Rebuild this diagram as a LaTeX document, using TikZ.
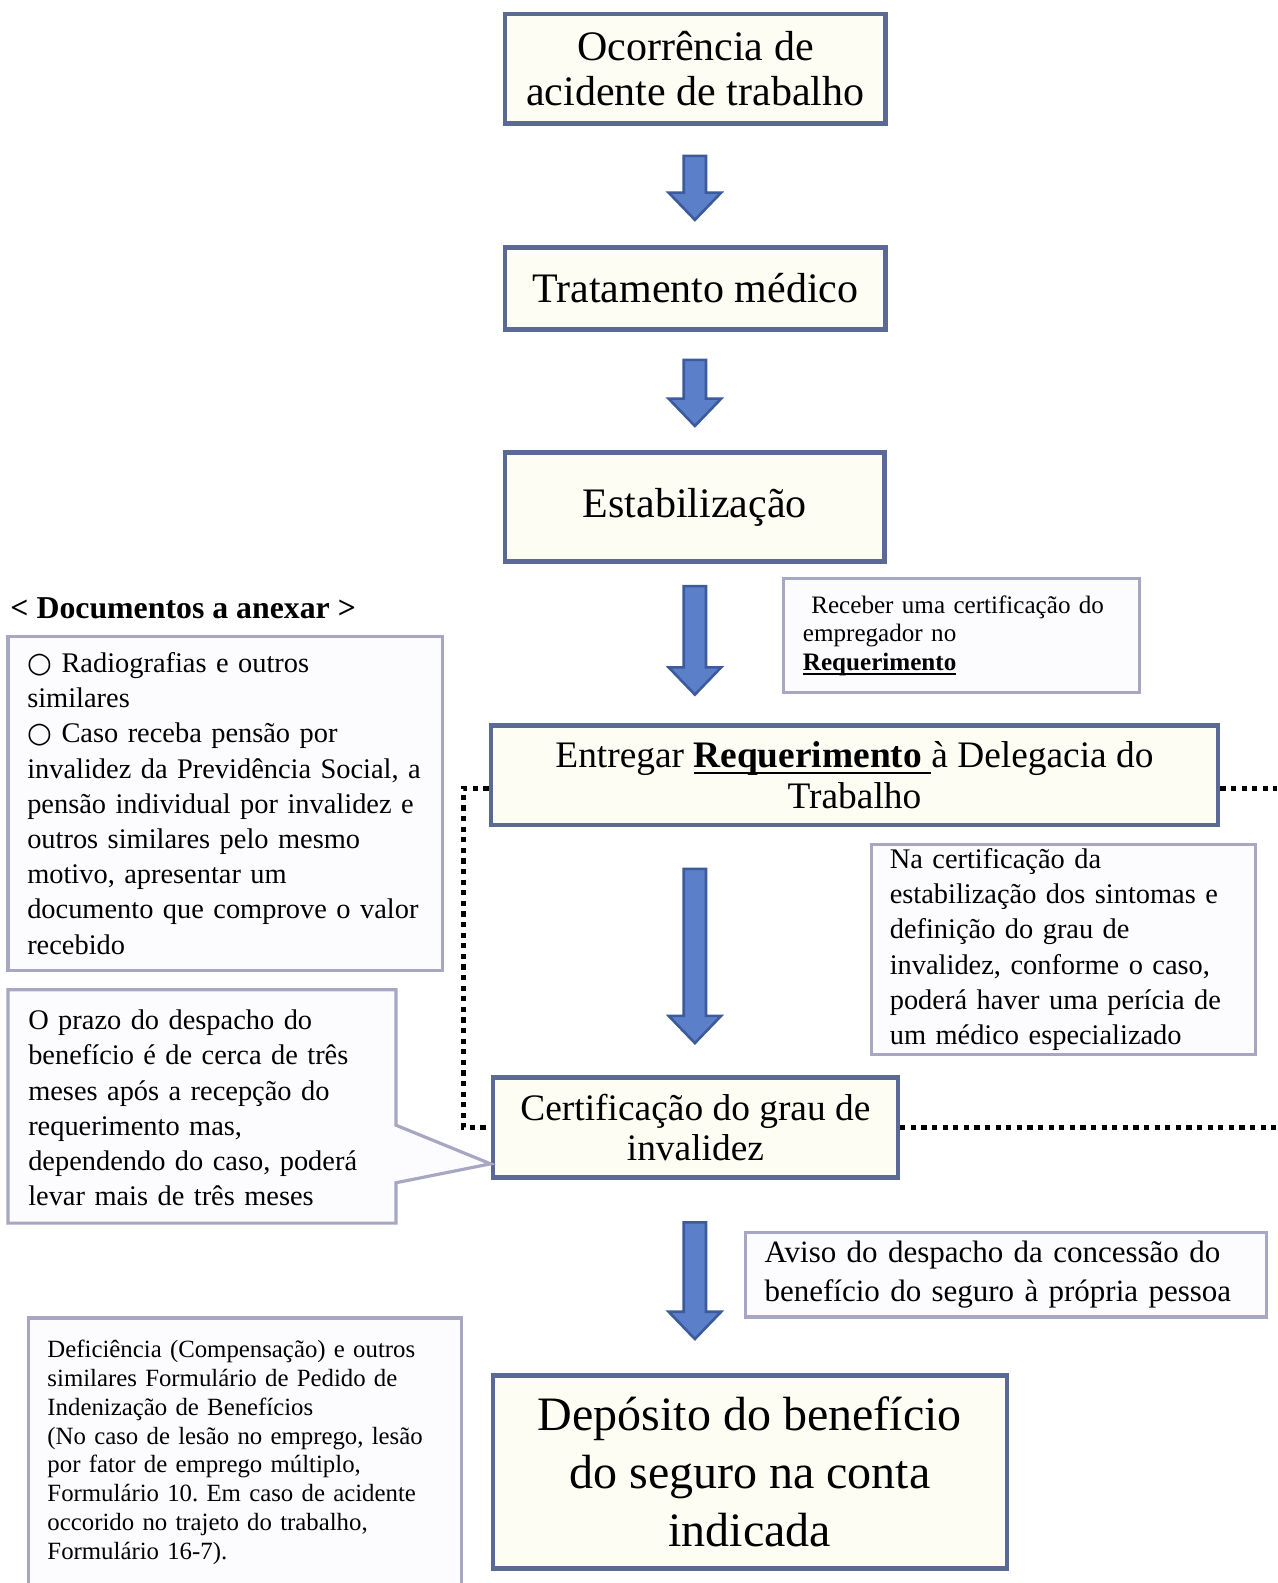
\documentclass[tikz,border=0pt]{standalone}
\usepackage{fontspec}
\setmainfont{Liberation Serif}
\newfontfamily\symfont{DejaVu Sans}
\usetikzlibrary{calc}

\definecolor{mainline}{RGB}{91,106,148}
\definecolor{mainfill}{RGB}{253,253,243}
\definecolor{noteline}{RGB}{167,167,195}
\definecolor{notefill}{RGB}{252,252,255}
\definecolor{arrowfill}{RGB}{91,127,200}
\definecolor{arrowline}{RGB}{60,90,158}

\newdimen\px \px=0.505pt
\newcommand\fs[2]{\fontsize{#1pt}{#2pt}\selectfont\frenchspacing}
\newcommand\reqline[2]{\leavevmode\setbox0\hbox{#2}\rlap{\rule[-#1]{\wd0}{0.9pt}}\box0}
\newcommand\bullito{{\symfont ○}}

\tikzset{
  mainbox/.style={
    rectangle,
    draw=mainline,
    fill=mainfill,
    line width=2.3pt,
    inner sep=0pt,
    align=center
  },
  notebox/.style={
    rectangle,
    draw=noteline,
    fill=notefill,
    line width=1.6pt,
    inner ysep=0pt,
    align=left
  },
  noteline/.style={draw=noteline, line width=1.6pt},
  dotline/.style={line width=2.6pt, dash pattern=on 2.6pt off 2.7pt},
  blockarrow/.style={fill=arrowfill, draw=arrowline, line width=1.3pt},
}

% block arrow from node #1 down to node #2, on the column (col)
\newcommand\flowarrow[4]{%
  \draw[blockarrow] ($(col |- #1.south)+(-11,#3)$) -- ($(col |- #1.south)+(11,#3)$)
    -- ($(col |- #2.north)+(11,-#4-27)$) -- ($(col |- #2.north)+(26,-#4-27)$)
    -- ($(col |- #2.north)+(0,-#4)$) -- ($(col |- #2.north)+(-26,-#4-27)$)
    -- ($(col |- #2.north)+(-11,-#4-27)$) -- cycle;}

\begin{document}
\begin{tikzpicture}[x=0.505pt, y=-0.505pt]
  \fill[white] (0,0) rectangle (1264.4,1567.3);
  \useasboundingbox (0,0) rectangle (1264.4,1567.3);
  \coordinate (col) at (688,0);
  \coordinate (rim) at (1264.4,0);

  % main steps
  \node[mainbox, minimum width=377\px, minimum height=108\px, font=\fs{21}{22.7}] (ocorr) at (688.5,68) {Ocorrência de\\acidente de trabalho};
  \node[mainbox, minimum width=377\px, minimum height=81\px, font=\fs{21}{22.7}] (trat) at (688.5,285.5) {Tratamento médico};
  \node[mainbox, minimum width=376\px, minimum height=108\px, font=\fs{21}{22.7}] (estab) at (688,502) {Estabilização};
  \node[mainbox, minimum width=720\px, minimum height=99\px, font=\fs{18.7}{20.2}] (entreg) at (846,767.5) {Entregar \reqline{3pt}{\textbf{Requerimento}\ }à Delegacia do\\Trabalho};
  \node[mainbox, minimum width=401\px, minimum height=99\px, font=\fs{18.7}{19.7}] (cert) at (688.5,1116.5) {Certificação do grau de\\invalidez};
  \node[mainbox, minimum width=509\px, minimum height=191\px, font=\fs{24}{29}] (depos) at (742.5,1457.5) {Depósito do benefício\\do seguro na conta\\indicada};

  % dotted links
  \coordinate (entregR) at ($(entreg.east)+(0,13)$);
  \coordinate (entregL) at ($(entreg.west)+(0,13)$);
  \draw[dotline] (entregR) -- (entregR -| rim);
  \draw[dotline] (entregL) -- ++(-25,0) |- (cert.west);
  \draw[dotline] (cert.east) -- (cert.east -| rim);

  % notes
  \node[notebox, text width=314\px, inner xsep=19\px, minimum height=113\px, font=\fs{12.55}{14.4}] (recv) at (952,629.5) {\ Receber uma certificação do\\empregador no\\\reqline{2pt}{\textbf{Requerimento}}};
  \node[anchor=west, inner sep=0pt, font=\fs{15.9}{19}\bfseries] (head) at (10,602) {< Documentos a anexar >};
  \node[notebox, text width=392\px, inner xsep=19\px, minimum height=331\px, font=\fs{14.2}{17.6}] (docs) at (223,795.5) {\bullito\ Radiografias e outros\\similares\\\bullito\ Caso receba pensão por\\invalidez da Previdência Social, a\\pensão individual por invalidez e\\outros similares pelo mesmo\\motivo, apresentar um\\documento que comprove o valor\\recebido};
  \node[notebox, text width=344\px, inner xsep=18\px, minimum height=208\px, font=\fs{14.2}{17.6}] (nacert) at (1053,940) {Na certificação da\\estabilização dos sintomas e\\definição do grau de\\invalidez, conforme o caso,\\poderá haver uma perícia de\\um médico especializado};
  \filldraw[noteline, fill=notefill] (8,980) -- (392,980) -- (392,1114) -- ($(cert.south west)+(0,-16)$) -- (392,1171) -- (392,1211) -- (8,1211) -- cycle;
  \node[align=left, text width=350\px, inner sep=0pt, font=\fs{14.2}{17.6}] (prazo) at (203,1097) {O prazo do despacho do\\benefício é de cerca de três\\meses após a recepção do\\requerimento mas,\\dependendo do caso, poderá\\levar mais de três meses};
  \node[notebox, text width=478\px, inner xsep=19\px, minimum height=84\px, font=\fs{15.5}{19.7}] (aviso) at (996,1262) {Aviso do despacho da concessão do\\benefício do seguro à própria pessoa};
  \fill[notefill] (28,1305) rectangle (457,1600);
  \draw[noteline] (28,1600) |- (457,1305) -- (457,1600);
  \node[align=left, text width=391\px, inner sep=0pt, font=\fs{12.4}{14.4}] (defi) at (242.5,1438) {Deficiência (Compensação) e outros\\similares Formulário de Pedido de\\Indenização de Benefícios\\(No caso de lesão no emprego, lesão\\por fator de emprego múltiplo,\\Formulário 10. Em caso de acidente\\occorido no trajeto do trabalho,\\Formulário 16-7).};

  % arrows
  \flowarrow{ocorr}{trat}{30}{25}
  \flowarrow{trat}{estab}{28}{24}
  \flowarrow{estab}{entreg}{22}{28}
  \flowarrow{entreg}{cert}{41}{32}
  \flowarrow{cert}{depos}{42}{34}
\end{tikzpicture}
\end{document}
